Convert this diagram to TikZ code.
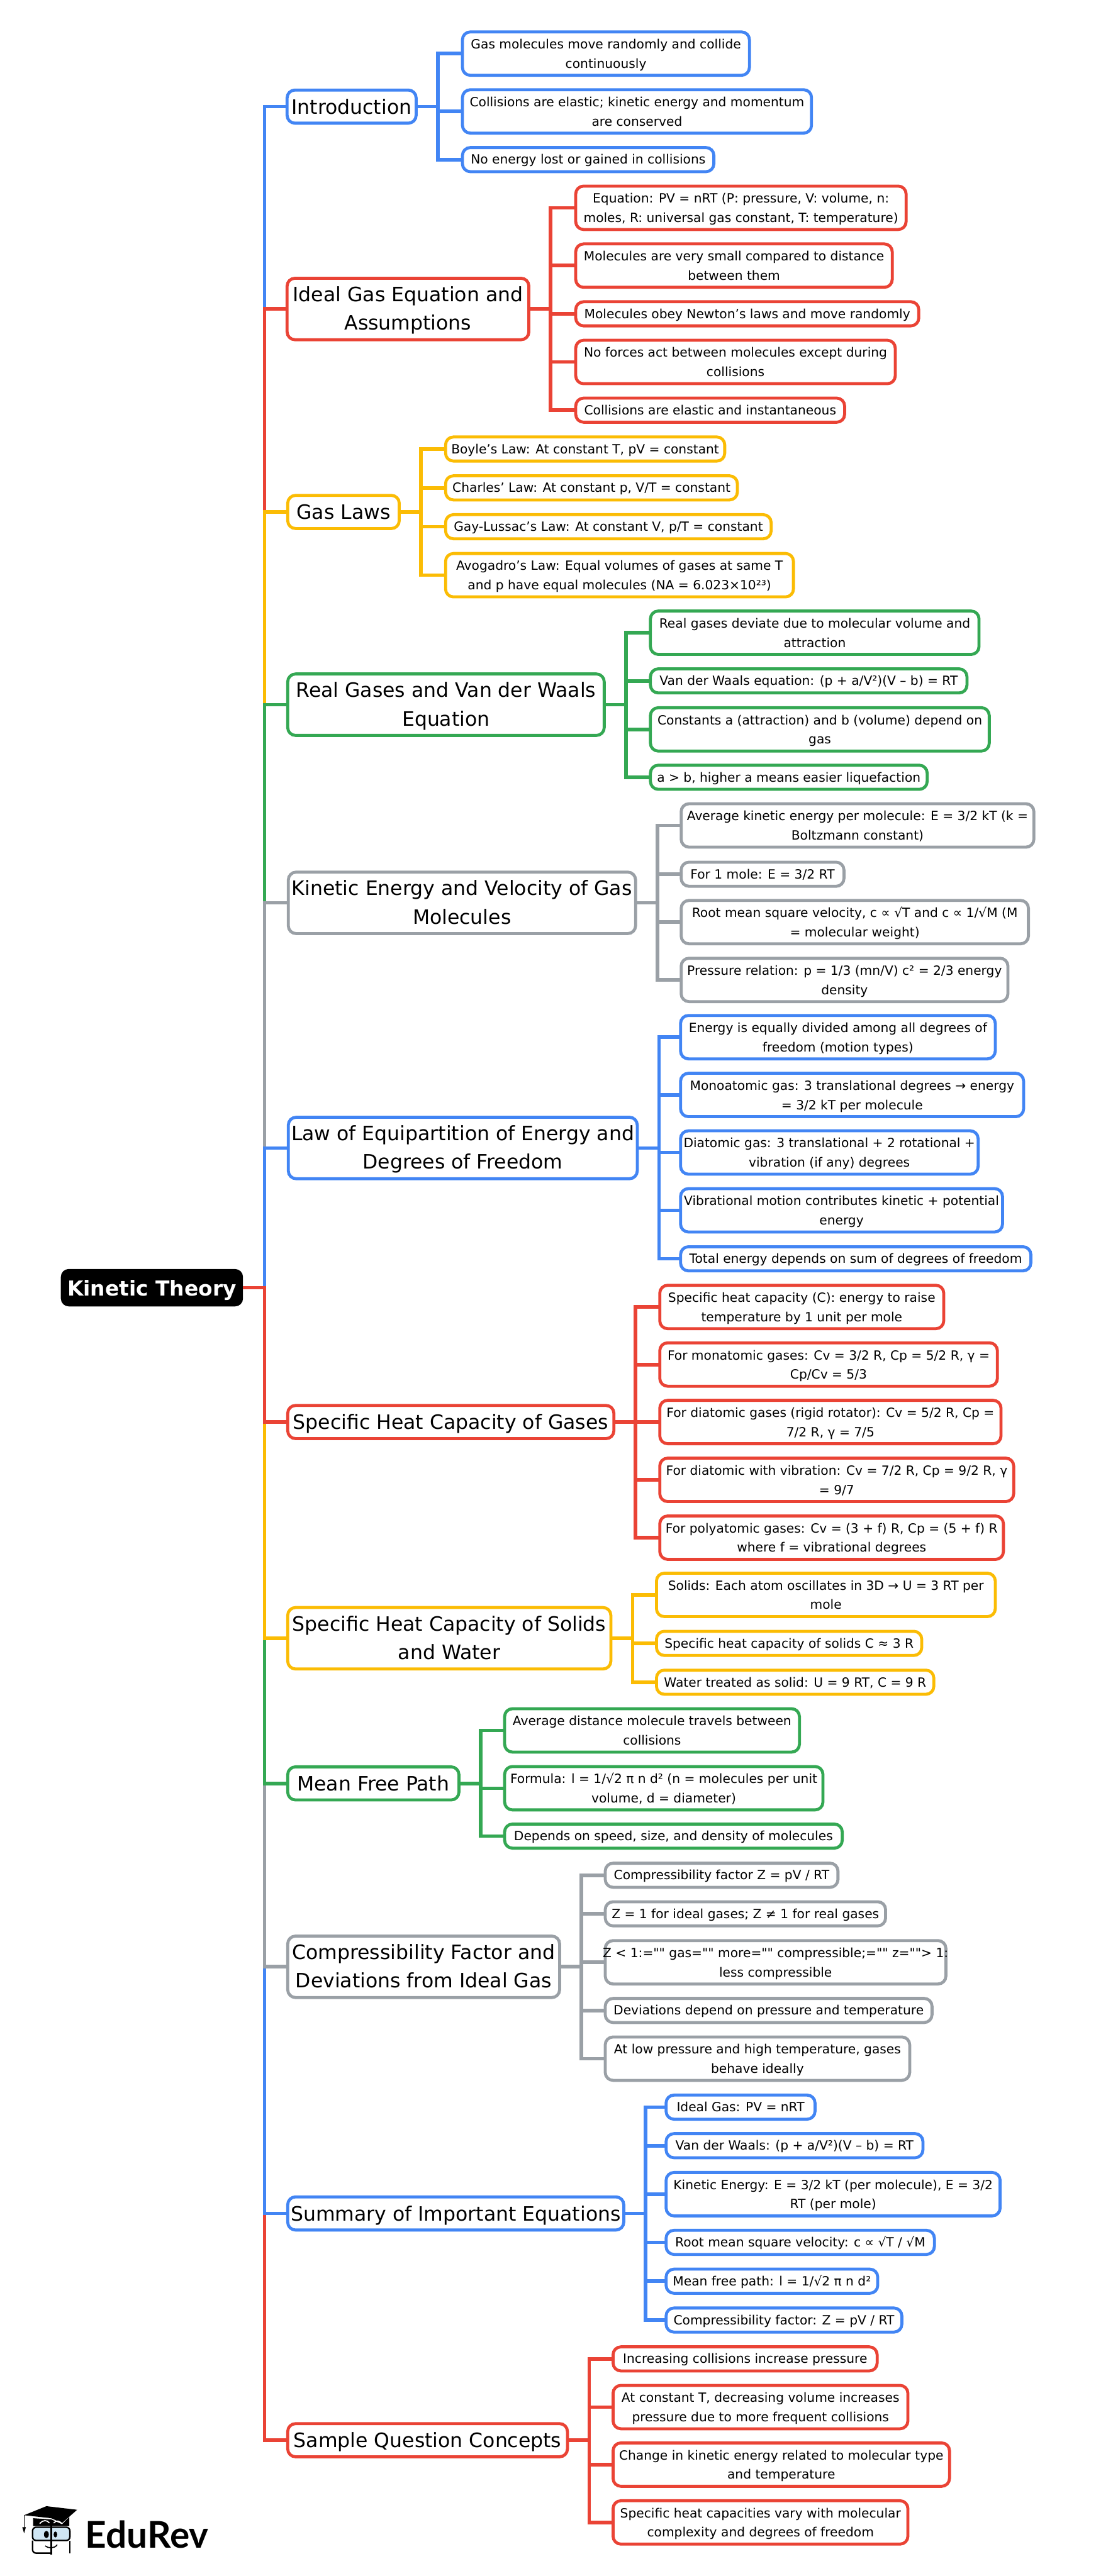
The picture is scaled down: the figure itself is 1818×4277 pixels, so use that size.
\documentclass[tikz,border=0pt]{standalone}
\usepackage{fontspec}
\usetikzlibrary{positioning,calc}
\newfontfamily\mapfont{DejaVu Sans}
\newfontfamily\brandfont{Lato}
\definecolor{gblue}{HTML}{4285F4}
\definecolor{gred}{HTML}{EA4335}
\definecolor{gyellow}{HTML}{FBBC04}
\definecolor{ggreen}{HTML}{34A853}
\definecolor{ggrey}{HTML}{9AA0A6}
\definecolor{lens}{HTML}{CFE6F4}

\begin{document}
\begin{tikzpicture}[
    x=0.01cm, y=-0.01cm,
    theme/.style = {rectangle, rounded corners=0.13cm, fill=black, text=white, outer sep=0pt, inner xsep=0.11cm, inner ysep=0pt, minimum height=0.62cm, text height=0.26cm, text depth=0pt, font=\mapfont\bfseries\fontsize{9.75}{13.4}\selectfont},
    topic/.style = {rectangle, rounded corners=0.13cm, draw, fill=white, anchor=west, line width=1.42pt, align=center, outer sep=0pt, inner xsep=0.05cm, inner ysep=0pt, minimum height=0.55cm, text height=0.24cm, text depth=0pt, font=\mapfont\fontsize{9.35}{13.4}\selectfont},
    leaf/.style = {rectangle, rounded corners=0.13cm, draw, fill=white, anchor=west, line width=1.42pt, align=center, outer sep=0pt, inner xsep=0.05cm, inner ysep=0pt, minimum height=0.40cm, text height=0.15cm, text depth=0pt, font=\mapfont\fontsize{6}{9.1}\selectfont},
    tall/.style = {minimum height=0.72cm, text height=0.48cm},
    ttall/.style = {minimum height=1.02cm, text height=0.70cm},
    trunk/.style = {line width=1.7pt},
    branch/.style = {line width=1.7pt, to path={-- ++(36,0) |- (\tikztotarget)}}
    ]
    \useasboundingbox (0,0) rectangle (1818,4277);

    \coordinate (spine) at (439,2138);
    \node[theme, anchor=west] (theory) at (101,2138) {Kinetic Theory};

    \node[topic,draw=gblue,minimum width=2.14cm] (intro) at (476.5,177) {Introduction};
    \node[topic,ttall,draw=gred,minimum width=4.01cm] (ideal) at (476.5,513) {Ideal Gas Equation and\\Assumptions};
    \node[topic,draw=gyellow,minimum width=1.85cm] (laws) at (477.5,850) {Gas Laws};
    \node[topic,ttall,draw=ggreen,minimum width=5.25cm] (real) at (477.5,1170) {Real Gases and Van der Waals\\Equation};
    \node[topic,ttall,draw=ggrey,minimum width=5.76cm] (energy) at (478.5,1499) {Kinetic Energy and Velocity of Gas\\Molecules};
    \node[topic,ttall,draw=gblue,minimum width=5.74cm] (equi) at (478.5,1906) {Law of Equipartition of Energy and\\Degrees of Freedom};
    \node[topic,draw=gred,minimum width=5.41cm] (heat) at (477.5,2361) {Specific Heat Capacity of Gases};
    \node[topic,ttall,draw=gyellow,minimum width=5.36cm] (solids) at (477.5,2720) {Specific Heat Capacity of Solids\\and Water};
    \node[topic,draw=ggreen,minimum width=2.84cm] (mfp) at (477.5,2961) {Mean Free Path};
    \node[topic,ttall,draw=ggrey,minimum width=4.51cm] (compress) at (477.5,3265.5) {Compressibility Factor and\\Deviations from Ideal Gas};
    \node[topic,draw=gblue,minimum width=5.51cm] (summary) at (477.5,3675) {Summary of Important Equations};
    \node[topic,draw=gred,minimum width=4.64cm] (sample) at (477.5,4051.5) {Sample Question Concepts};

    \node[leaf,tall,draw=gblue,minimum width=4.76cm] (intro1) at (767.5,89) {Gas molecules move randomly and collide\\continuously};
    \node[leaf,tall,draw=gblue,minimum width=5.79cm] (intro2) at (767.5,185) {Collisions are elastic; kinetic energy and momentum\\are conserved};
    \node[leaf,draw=gblue,minimum width=4.17cm] (intro3) at (767.5,265) {No energy lost or gained in collisions};

    \node[leaf,tall,draw=gred,minimum width=5.48cm] (ideal1) at (955.5,345) {Equation: PV = nRT (P: pressure, V: volume, n:\\moles, R: universal gas constant, T: temperature)};
    \node[leaf,tall,draw=gred,minimum width=5.25cm] (ideal2) at (955.5,441) {Molecules are very small compared to distance\\between them};
    \node[leaf,draw=gred,minimum width=5.69cm] (ideal3) at (955.5,521) {Molecules obey Newton’s laws and move randomly};
    \node[leaf,tall,draw=gred,minimum width=5.30cm] (ideal4) at (955.5,601) {No forces act between molecules except during\\collisions};
    \node[leaf,draw=gred,minimum width=4.46cm] (ideal5) at (955.5,681) {Collisions are elastic and instantaneous};

    \node[leaf,draw=gyellow,minimum width=4.63cm] (laws1) at (739.5,745.5) {Boyle’s Law: At constant T, pV = constant};
    \node[leaf,draw=gyellow,minimum width=4.84cm] (laws2) at (739.5,810) {Charles’ Law: At constant p, V/T = constant};
    \node[leaf,draw=gyellow,minimum width=5.40cm] (laws3) at (739.5,874.5) {Gay-Lussac’s Law: At constant V, p/T = constant};
    \node[leaf,tall,draw=gyellow,minimum width=5.77cm] (laws4) at (739.5,955) {Avogadro’s Law: Equal volumes of gases at same T\\and p have equal molecules (NA = 6.023×10²³)};

    \node[leaf,tall,draw=ggreen,minimum width=5.45cm] (real1) at (1079.5,1050.5) {Real gases deviate due to molecular volume and\\attraction};
    \node[leaf,draw=ggreen,minimum width=5.25cm] (real2) at (1079.5,1130.5) {Van der Waals equation: (p + a/V²)(V – b) = RT};
    \node[leaf,tall,draw=ggreen,minimum width=5.62cm] (real3) at (1079.5,1211) {Constants a (attraction) and b (volume) depend on\\gas};
    \node[leaf,draw=ggreen,minimum width=4.59cm] (real4) at (1079.5,1290.5) {a > b, higher a means easier liquefaction};

    \node[leaf,tall,draw=ggrey,minimum width=5.85cm] (energy1) at (1130.5,1370.5) {Average kinetic energy per molecule: E = 3/2 kT (k =\\Boltzmann constant)};
    \node[leaf,draw=ggrey,minimum width=2.70cm] (energy2) at (1130.5,1451.5) {For 1 mole: E = 3/2 RT};
    \node[leaf,tall,draw=ggrey,minimum width=5.76cm] (energy3) at (1130.5,1531) {Root mean square velocity, c ∝ √T and c ∝ 1/√M (M\\= molecular weight)};
    \node[leaf,tall,draw=ggrey,minimum width=5.42cm] (energy4) at (1130.5,1627) {Pressure relation: p = 1/3 (mn/V) c² = 2/3 energy\\density};

    \node[leaf,tall,draw=gblue,minimum width=5.22cm] (equi1) at (1129.5,1722) {Energy is equally divided among all degrees of\\freedom (motion types)};
    \node[leaf,tall,draw=gblue,minimum width=5.69cm] (equi2) at (1129.5,1818) {Monoatomic gas: 3 translational degrees → energy\\= 3/2 kT per molecule};
    \node[leaf,tall,draw=gblue,minimum width=4.93cm] (equi3) at (1129.5,1913.5) {Diatomic gas: 3 translational + 2 rotational +\\vibration (if any) degrees};
    \node[leaf,tall,draw=gblue,minimum width=5.34cm] (equi4) at (1129.5,2009.5) {Vibrational motion contributes kinetic + potential\\energy};
    \node[leaf,draw=gblue,minimum width=5.81cm] (equi5) at (1129.5,2090) {Total energy depends on sum of degrees of freedom};

    \node[leaf,tall,draw=gred,minimum width=4.71cm] (heat1) at (1095,2170) {Specific heat capacity (C): energy to raise\\temperature by 1 unit per mole};
    \node[leaf,tall,draw=gred,minimum width=5.60cm] (heat2) at (1095,2265.5) {For monatomic gases: Cv = 3/2 R, Cp = 5/2 R, γ =\\Cp/Cv = 5/3};
    \node[leaf,tall,draw=gred,minimum width=5.66cm] (heat3) at (1095,2361) {For diatomic gases (rigid rotator): Cv = 5/2 R, Cp =\\7/2 R, γ = 7/5};
    \node[leaf,tall,draw=gred,minimum width=5.87cm] (heat4) at (1095,2457) {For diatomic with vibration: Cv = 7/2 R, Cp = 9/2 R, γ\\= 9/7};
    \node[leaf,tall,draw=gred,minimum width=5.70cm] (heat5) at (1095,2553) {For polyatomic gases: Cv = (3 + f) R, Cp = (5 + f) R\\where f = vibrational degrees};

    \node[leaf,tall,draw=gyellow,minimum width=5.62cm] (solids1) at (1089.5,2648) {Solids: Each atom oscillates in 3D → U = 3 RT per\\mole};
    \node[leaf,draw=gyellow,minimum width=4.40cm] (solids2) at (1089.5,2728.5) {Specific heat capacity of solids C ≈ 3 R};
    \node[leaf,draw=gyellow,minimum width=4.60cm] (solids3) at (1089.5,2793) {Water treated as solid: U = 9 RT, C = 9 R};

    \node[leaf,tall,draw=ggreen,minimum width=4.89cm] (mfp1) at (837.5,2873) {Average distance molecule travels between\\collisions};
    \node[leaf,tall,draw=ggreen,minimum width=5.28cm] (mfp2) at (837.5,2969) {Formula: l = 1/√2 π n d² (n = molecules per unit\\volume, d = diameter)};
    \node[leaf,draw=ggreen,minimum width=5.60cm] (mfp3) at (837.5,3048.5) {Depends on speed, size, and density of molecules};

    \node[leaf,draw=ggrey,minimum width=3.86cm] (compress1) at (1004.5,3113.5) {Compressibility factor Z = pV / RT};
    \node[leaf,draw=ggrey,minimum width=4.65cm] (compress2) at (1004.5,3177.5) {Z = 1 for ideal gases; Z ≠ 1 for real gases};
    \node[leaf,tall,draw=ggrey,minimum width=5.65cm] (compress3) at (1004.5,3258) {\makebox[5.36cm][c]{Z < 1:="" gas="" more="" compressible;="" z=""> 1:}\\less compressible};
    \node[leaf,draw=ggrey,minimum width=5.42cm] (compress4) at (1004.5,3338) {Deviations depend on pressure and temperature};
    \node[leaf,tall,draw=ggrey,minimum width=5.05cm] (compress5) at (1004.5,3418) {At low pressure and high temperature, gases\\behave ideally};

    \node[leaf,draw=gblue,minimum width=2.47cm] (summary1) at (1105.5,3498.5) {Ideal Gas: PV = nRT};
    \node[leaf,draw=gblue,minimum width=4.26cm] (summary2) at (1105.5,3562.5) {Van der Waals: (p + a/V²)(V – b) = RT};
    \node[leaf,tall,draw=gblue,minimum width=5.54cm] (summary3) at (1105.5,3643) {Kinetic Energy: E = 3/2 kT (per molecule), E = 3/2\\RT (per mole)};
    \node[leaf,draw=gblue,minimum width=4.45cm] (summary4) at (1105.5,3723) {Root mean square velocity: c ∝ √T / √M};
    \node[leaf,draw=gblue,minimum width=3.51cm] (summary5) at (1105.5,3787.5) {Mean free path: l = 1/√2 π n d²};
    \node[leaf,draw=gblue,minimum width=3.91cm] (summary6) at (1105.5,3852) {Compressibility factor: Z = pV / RT};

    \node[leaf,draw=gred,minimum width=4.38cm] (sample1) at (1017.5,3916.5) {Increasing collisions increase pressure};
    \node[leaf,tall,draw=gred,minimum width=4.89cm] (sample2) at (1017.5,3996.5) {At constant T, decreasing volume increases\\pressure due to more frequent collisions};
    \node[leaf,tall,draw=gred,minimum width=5.58cm] (sample3) at (1017.5,4092) {Change in kinetic energy related to molecular type\\and temperature};
    \node[leaf,tall,draw=gred,minimum width=4.89cm] (sample4) at (1017.5,4188) {Specific heat capacities vary with molecular\\complexity and degrees of freedom};

    \draw[trunk,draw=gblue] (theory.east) -- (spine) |- (intro.west);
    \draw[trunk,draw=gred] (theory.east) -- (spine) |- (ideal.west);
    \draw[trunk,draw=gyellow] (theory.east) -- (spine) |- (laws.west);
    \draw[trunk,draw=ggreen] (theory.east) -- (spine) |- (real.west);
    \draw[trunk,draw=ggrey] (theory.east) -- (spine) |- (energy.west);
    \draw[trunk,draw=gblue] (theory.east) -- (spine) |- (equi.west);
    \draw[trunk,draw=gred] (theory.east) -- (spine) |- (sample.west);
    \draw[trunk,draw=gblue] (theory.east) -- (spine) |- (summary.west);
    \draw[trunk,draw=ggrey] (theory.east) -- (spine) |- (compress.west);
    \draw[trunk,draw=ggreen] (theory.east) -- (spine) |- (mfp.west);
    \draw[trunk,draw=gyellow] (theory.east) -- (spine) |- (solids.west);
    \draw[trunk,draw=gred] (theory.east) -- (spine) |- (heat.west);

    \draw[branch,draw=gblue] (intro.east) to (intro1.west);
    \draw[branch,draw=gblue] (intro.east) to (intro2.west);
    \draw[branch,draw=gblue] (intro.east) to (intro3.west);
    \draw[branch,draw=gred] (ideal.east) to (ideal1.west);
    \draw[branch,draw=gred] (ideal.east) to (ideal2.west);
    \draw[branch,draw=gred] (ideal.east) to (ideal3.west);
    \draw[branch,draw=gred] (ideal.east) to (ideal4.west);
    \draw[branch,draw=gred] (ideal.east) to (ideal5.west);
    \draw[branch,draw=gyellow] (laws.east) to (laws1.west);
    \draw[branch,draw=gyellow] (laws.east) to (laws2.west);
    \draw[branch,draw=gyellow] (laws.east) to (laws3.west);
    \draw[branch,draw=gyellow] (laws.east) to (laws4.west);
    \draw[branch,draw=ggreen] (real.east) to (real1.west);
    \draw[branch,draw=ggreen] (real.east) to (real2.west);
    \draw[branch,draw=ggreen] (real.east) to (real3.west);
    \draw[branch,draw=ggreen] (real.east) to (real4.west);
    \draw[branch,draw=ggrey] (energy.east) to (energy1.west);
    \draw[branch,draw=ggrey] (energy.east) to (energy2.west);
    \draw[branch,draw=ggrey] (energy.east) to (energy3.west);
    \draw[branch,draw=ggrey] (energy.east) to (energy4.west);
    \draw[branch,draw=gblue] (equi.east) to (equi1.west);
    \draw[branch,draw=gblue] (equi.east) to (equi2.west);
    \draw[branch,draw=gblue] (equi.east) to (equi3.west);
    \draw[branch,draw=gblue] (equi.east) to (equi4.west);
    \draw[branch,draw=gblue] (equi.east) to (equi5.west);
    \draw[branch,draw=gred] (heat.east) to (heat1.west);
    \draw[branch,draw=gred] (heat.east) to (heat2.west);
    \draw[branch,draw=gred] (heat.east) to (heat3.west);
    \draw[branch,draw=gred] (heat.east) to (heat4.west);
    \draw[branch,draw=gred] (heat.east) to (heat5.west);
    \draw[branch,draw=gyellow] (solids.east) to (solids1.west);
    \draw[branch,draw=gyellow] (solids.east) to (solids2.west);
    \draw[branch,draw=gyellow] (solids.east) to (solids3.west);
    \draw[branch,draw=ggreen] (mfp.east) to (mfp1.west);
    \draw[branch,draw=ggreen] (mfp.east) to (mfp2.west);
    \draw[branch,draw=ggreen] (mfp.east) to (mfp3.west);
    \draw[branch,draw=ggrey] (compress.east) to (compress1.west);
    \draw[branch,draw=ggrey] (compress.east) to (compress2.west);
    \draw[branch,draw=ggrey] (compress.east) to (compress3.west);
    \draw[branch,draw=ggrey] (compress.east) to (compress4.west);
    \draw[branch,draw=ggrey] (compress.east) to (compress5.west);
    \draw[branch,draw=gblue] (summary.east) to (summary1.west);
    \draw[branch,draw=gblue] (summary.east) to (summary2.west);
    \draw[branch,draw=gblue] (summary.east) to (summary3.west);
    \draw[branch,draw=gblue] (summary.east) to (summary4.west);
    \draw[branch,draw=gblue] (summary.east) to (summary5.west);
    \draw[branch,draw=gblue] (summary.east) to (summary6.west);
    \draw[branch,draw=gred] (sample.east) to (sample1.west);
    \draw[branch,draw=gred] (sample.east) to (sample2.west);
    \draw[branch,draw=gred] (sample.east) to (sample3.west);
    \draw[branch,draw=gred] (sample.east) to (sample4.west);

    \node[anchor=west, inner sep=0pt, font=\brandfont\bfseries\fontsize{17.4}{17.4}\selectfont] (brand) at (141,4208) {EduRev};
    \fill (40,4176) -- (77,4161) -- (128,4167) -- (103,4189) -- (85,4181) -- cycle;
    \fill (55,4181) -- (85,4183) -- (103,4191) -- (115,4179) -- (115,4194) -- (55,4194) -- cycle;
    \draw[line width=0.3pt] (40,4176) -- (40,4197);
    \fill (37,4196) -- (43,4196) -- (40,4206) -- cycle;
    \draw[white, line width=0.5pt] (66,4190) .. controls (72,4183) and (78,4184) .. (82,4189);
    \draw[white, line width=0.5pt] (89,4189) .. controls (94,4184) and (98,4185) .. (103,4190);
    \draw[line width=0.7pt, fill=lens, rounded corners=0.06cm] (54,4196) rectangle (116,4218);
    \draw[line width=0.7pt, rounded corners=0.06cm] (54,4218) -- (54,4239) -- (85,4239);
    \draw[line width=0.7pt, rounded corners=0.04cm] (116,4218) -- (116,4239);
    \draw[line width=0.9pt] (85,4193) -- (85,4241);
    \fill (77,4208) ellipse [x radius=4, y radius=6];
    \fill (92,4208) ellipse [x radius=3, y radius=5];
    \draw[line width=0.5pt] (75,4227) .. controls (80,4231) and (90,4232) .. (95,4225);
\end{tikzpicture}
\end{document}
